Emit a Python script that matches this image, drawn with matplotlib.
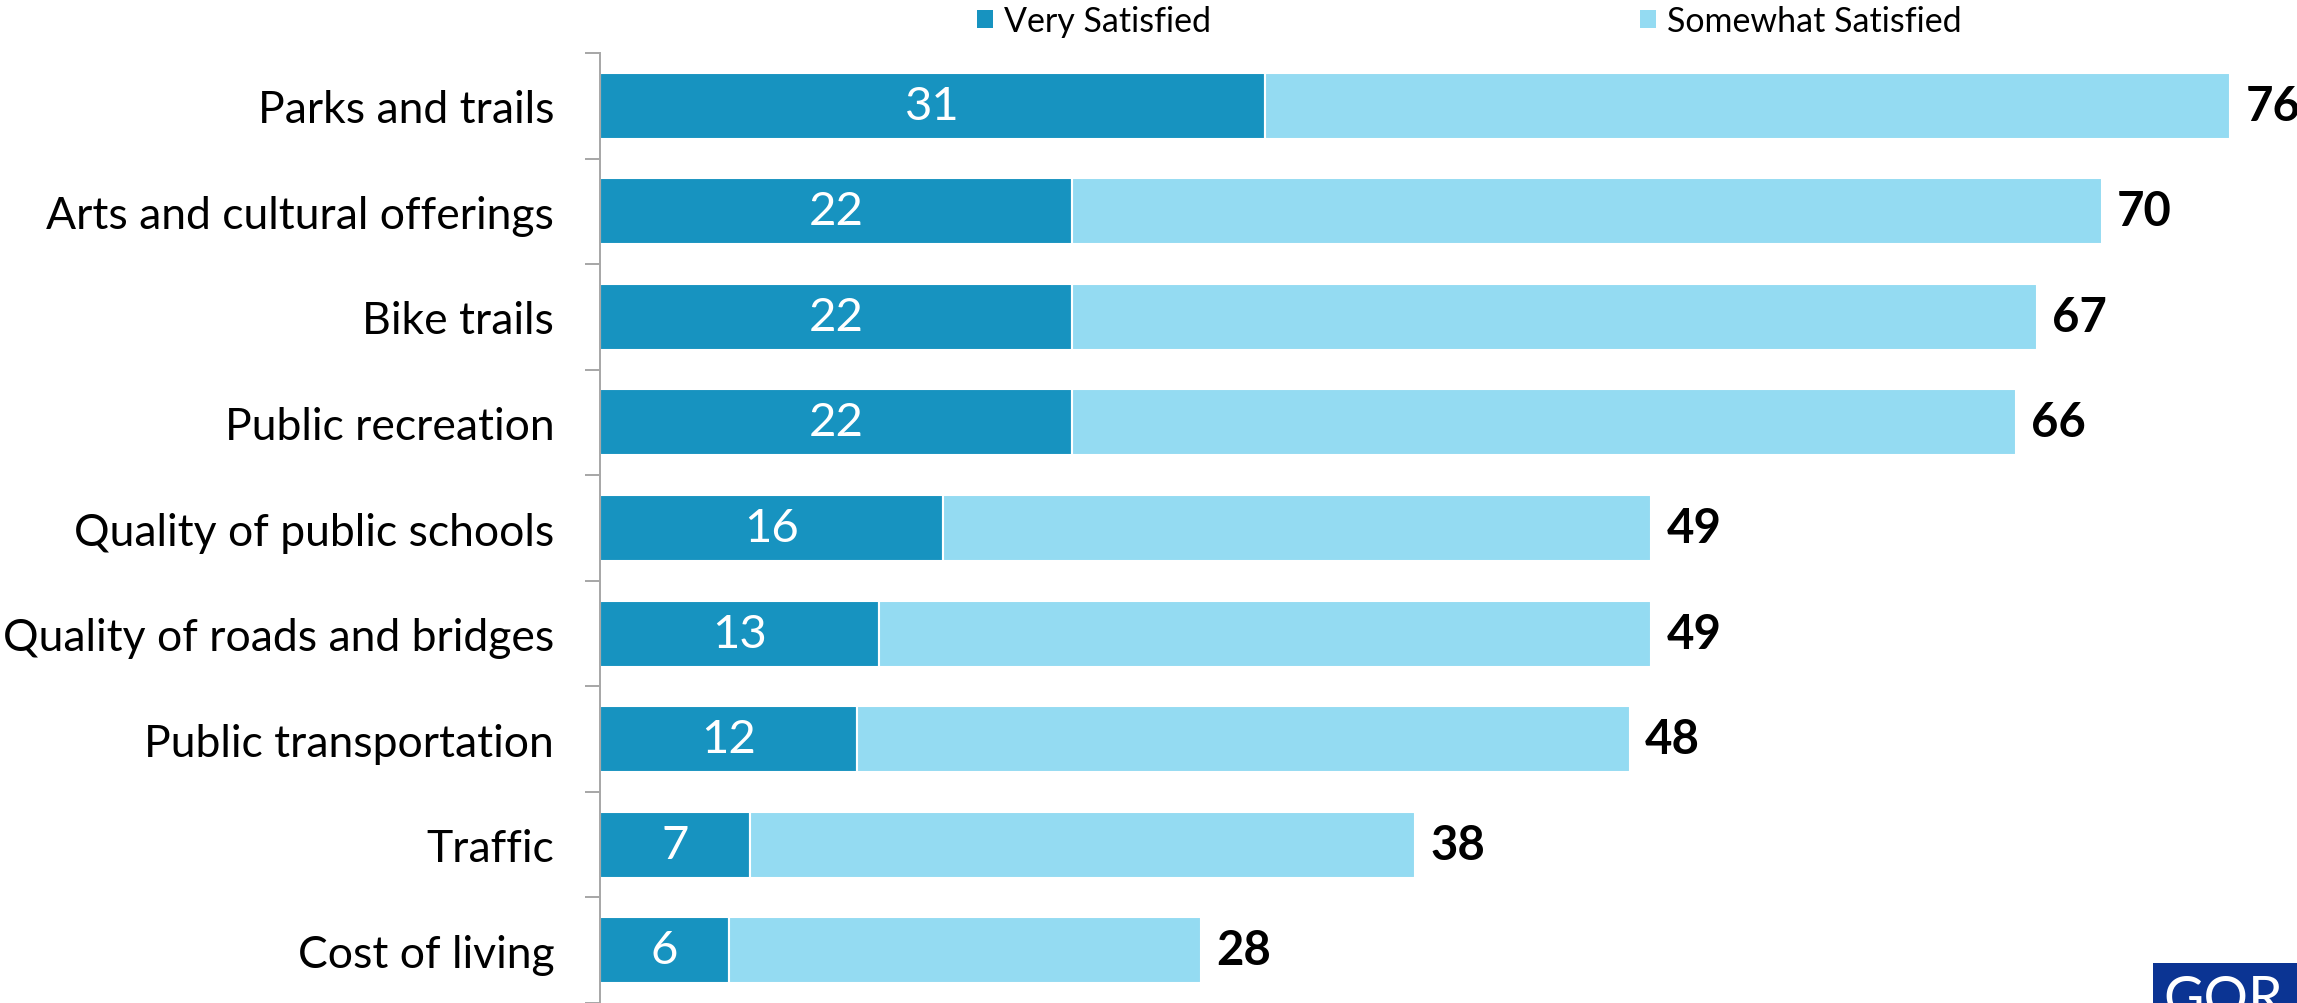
import matplotlib
matplotlib.use("Agg")
import matplotlib.pyplot as plt
from matplotlib.patches import Patch, Rectangle
import numpy as np

plt.rcParams['font.family'] = ['Lato', 'DejaVu Sans']

categories = ["Parks and trails", "Arts and cultural offerings", "Bike trails",
              "Public recreation", "Quality of public schools",
              "Quality of roads and bridges", "Public transportation",
              "Traffic", "Cost of living"]
very_satisfied = [31, 22, 22, 22, 16, 13, 12, 7, 6]
total_satisfied = [76, 70, 67, 66, 49, 49, 48, 38, 28]
somewhat_satisfied = [t - v for t, v in zip(total_satisfied, very_satisfied)]

dark = "#1793c0"
light = "#94dbf2"

W, H = 2297, 1004
fig = plt.figure(figsize=(W / 100, H / 100), dpi=100)
ax = fig.add_axes([600 / W, 0, 1 - 600 / W, 1 - 54 / H])

y = np.arange(len(categories))
ax.barh(y, very_satisfied, height=0.625, color=dark, edgecolor="white",
        linewidth=1.5, label="Very Satisfied")
ax.barh(y, somewhat_satisfied, left=very_satisfied, height=0.625, color=light,
        edgecolor="white", linewidth=1.5, label="Somewhat Satisfied")

for i in range(len(categories)):
    ax.text(very_satisfied[i] / 2, y[i], str(very_satisfied[i]), color="white",
            fontsize=34, ha="center", va="center")
    ax.annotate(str(total_satisfied[i]), (total_satisfied[i], y[i]),
                xytext=(11, 0), textcoords="offset points", fontsize=34,
                fontweight="bold", ha="left", va="center", color="black")

ax.set_xlim(0, 1697 / 21.45)
ax.set_ylim(len(categories) - 0.5, -0.5)
ax.set_yticks(y)
ax.set_yticklabels(categories, fontsize=32)
ax.set_yticks(np.arange(len(categories) + 1) - 0.5, minor=True)
ax.tick_params(axis="y", which="major", length=0, pad=33)
ax.tick_params(axis="y", which="minor", length=11, width=1.4, color="#a6a6a6")
ax.set_xticks([])
for s in ["top", "right", "bottom"]:
    ax.spines[s].set_visible(False)
ax.spines["left"].set_color("#a6a6a6")
ax.spines["left"].set_linewidth(1.4)

handles = [Patch(facecolor=dark, edgecolor="none"),
           Patch(facecolor=light, edgecolor="none")]
fig.legend(handles, ["Very Satisfied", "Somewhat Satisfied"], ncol=2,
           loc="center", bbox_to_anchor=(1469 / W, 1 - 22 / H), frameon=False,
           fontsize=24.5, handlelength=0.47, handleheight=0.47,
           handletextpad=0.33, columnspacing=12.6)

# logo in the corner
fig.patches.append(Rectangle((2153 / W, 0), (W - 2153) / W, 40 / H,
                             transform=fig.transFigure, facecolor="#0b3493",
                             edgecolor="none"))
fig.text(2163 / W, -12 / H, "GQR", color="white", fontsize=40,
         ha="left", va="baseline")

fig.savefig("out.png", dpi=100)
